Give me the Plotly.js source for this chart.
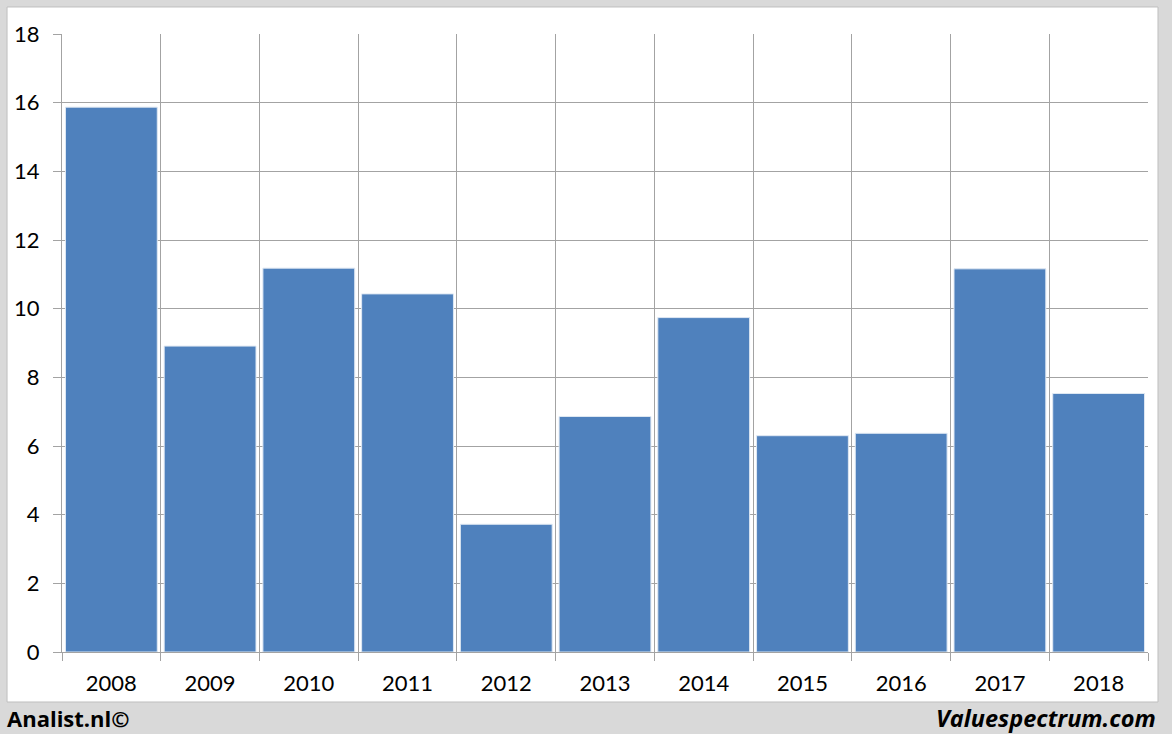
<!DOCTYPE html>
<html>
<head>
<meta charset="utf-8">
<script src="https://cdn.plot.ly/plotly-3.0.1.min.js"></script>
<style>html,body{margin:0;padding:0;background:#d9d9d9;}#chart{width:1172px;height:734px;}</style>
</head>
<body>
<div id="chart"></div>
<script>
const years = ['2008','2009','2010','2011','2012','2013','2014','2015','2016','2017','2018'];
const values = [15.87, 8.91, 11.18, 10.43, 3.72, 6.86, 9.74, 6.30, 6.37, 11.16, 7.53];
const yTicks = [0, 2, 4, 6, 8, 10, 12, 14, 16, 18];

const gridColor = '#a3a3a3';
const font = 'Lato, "Open Sans", sans-serif';

Plotly.newPlot('chart', [{
  type: 'bar',
  x: years,
  y: values,
  marker: {color: '#4f81bd', line: {color: '#dfe8f3', width: 1}},
  hoverinfo: 'x+y'
}], {
  width: 1172, height: 734,
  margin: {l: 62, r: 24, t: 34, b: 82, pad: 0},
  paper_bgcolor: '#d9d9d9',
  plot_bgcolor: '#ffffff',
  bargap: 0.07,
  showlegend: false,
  font: {family: font, size: 20, color: '#000000'},
  xaxis: {
    type: 'category',
    tickson: 'boundaries',
    showgrid: true, gridcolor: gridColor, gridwidth: 1,
    ticks: 'outside', ticklen: 8, tickcolor: gridColor, tickwidth: 1,
    showline: true, linecolor: gridColor, linewidth: 1,
    tickfont: {family: font, size: 22, color: '#000'},
    ticklabelstandoff: 12,
    fixedrange: true
  },
  yaxis: {
    range: [0, 18],
    tickvals: yTicks,
    ticktext: yTicks.map(String),
    showgrid: true, gridcolor: gridColor, gridwidth: 1,
    zeroline: false,
    ticks: 'outside', ticklen: 8, tickcolor: gridColor, tickwidth: 1,
    showline: true, linecolor: gridColor, linewidth: 1,
    tickfont: {family: font, size: 22, color: '#000'},
    ticklabelstandoff: 9,
    fixedrange: true
  },
  shapes: [{
    type: 'rect', xref: 'paper', yref: 'paper', layer: 'below',
    x0: -0.0506, x1: 1.0092, y0: -0.0809, y1: 1.0437,
    fillcolor: '#ffffff', line: {color: '#bfbfbf', width: 1}
  }],
  annotations: [{
    xref: 'paper', yref: 'paper', x: -0.0525, y: -0.106,
    xanchor: 'left', yanchor: 'middle', showarrow: false,
    text: '<b>Analist.nl©</b>',
    font: {family: '"Open Sans", Lato, sans-serif', size: 22, color: '#000'}
  }, {
    xref: 'paper', yref: 'paper', x: 1.0092, y: -0.106,
    xanchor: 'right', yanchor: 'middle', showarrow: false,
    text: '<b><i>Valuespectrum.com</i></b>',
    font: {family: '"Open Sans", Lato, sans-serif', size: 23.5, color: '#000'}
  }]
}, {displayModeBar: false, staticPlot: true});
</script>
</body>
</html>
